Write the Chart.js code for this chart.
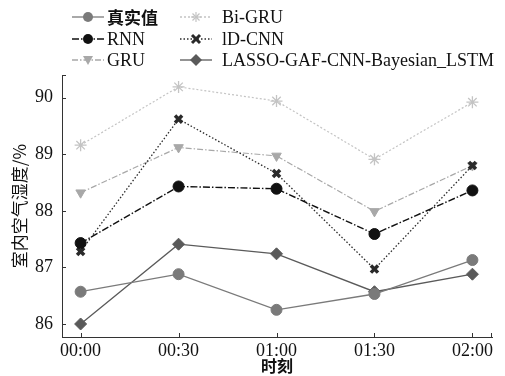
<!DOCTYPE html>
<html>
<head>
<meta charset="utf-8">
<script src="https://cdn.jsdelivr.net/npm/chart.js@4"></script>
<style>
  html, body { margin: 0; padding: 0; background: #fff; }
  #wrap { position: relative; width: 505px; height: 376px; }
  #legend { position: absolute; left: 0; top: 0; font-family: "Liberation Serif", "Noto Sans CJK SC", serif; font-size: 18px; color: #111; }
  .item { position: absolute; height: 20px; line-height: 20px; white-space: nowrap; }
  .item svg { position: absolute; top: 4px; }
  .item span { position: absolute; top: 0; }
  .zh { font-family: "Noto Sans CJK SC", sans-serif; font-size: 17px; font-weight: bold; }
</style>
</head>
<body>
<div id="wrap">
  <canvas id="chart" width="505" height="376"></canvas>
  <div id="legend"></div>
</div>
<script>
const timeLabels = ["00:00", "00:30", "01:00", "01:30", "02:00"];
const yTicks = [86, 87, 88, 89, 90];

const seriesNames = ["真实值", "Bi-GRU", "RNN", "lD-CNN", "GRU", "LASSO-GAF-CNN-Bayesian_LSTM"];
const actual = [86.57, 86.88, 86.25, 86.53, 87.13];
const biGru = [89.16, 90.19, 89.94, 88.91, 89.92];
const rnn = [87.43, 88.43, 88.39, 87.59, 88.36];
const cnn1d = [87.28, 89.62, 88.66, 86.97, 88.80];
const gru = [88.32, 89.12, 88.97, 87.99, 88.80];
const lassoLstm = [86.00, 87.41, 87.24, 86.57, 86.88];

const styles = [
  { color: "#7a7a7a", dash: [], point: "circle", rot: 0, r: 5.5, width: 1.3 },
  { color: "#c4c4c4", dash: [2, 2], point: "star", rot: 0, r: 6, width: 1.2 },
  { color: "#111111", dash: [7, 2, 1.5, 2], point: "circle", rot: 0, r: 5.5, width: 1.4 },
  { color: "#2a2a2a", dash: [1.5, 2], point: "crossRot", rot: 0, r: 5, width: 1.3 },
  { color: "#a8a8a8", dash: [6, 2, 1.5, 2], point: "triangle", rot: 180, r: 5.5, width: 1.2 },
  { color: "#5a5a5a", dash: [], point: "rectRot", rot: 0, r: 6, width: 1.3 }
];
const seriesData = [actual, biGru, rnn, cnn1d, gru, lassoLstm];

const datasets = seriesData.map((vals, i) => {
  const s = styles[i];
  return {
    label: seriesNames[i],
    data: vals.map((v, k) => ({ x: k, y: v })),
    borderColor: s.color,
    backgroundColor: s.color,
    borderWidth: s.width,
    borderDash: s.dash,
    pointStyle: s.point,
    pointRotation: s.rot,
    pointRadius: s.r,
    pointBorderWidth: s.point === "crossRot" ? 3.5 : (s.point === "star" ? 1.3 : 1),
    pointBorderColor: s.color,
    pointBackgroundColor: s.color,
    fill: false,
    tension: 0
  };
});

// inward tick marks drawn at the scales' own tick positions
const innerTicks = {
  id: "innerTicks",
  afterDraw(chart) {
    const ctx = chart.ctx;
    const xs = chart.scales.x, ys = chart.scales.y;
    const a = chart.chartArea;
    ctx.save();
    ctx.strokeStyle = "#333";
    ctx.lineWidth = 1;
    ys.ticks.forEach(t => {
      const y = Math.round(ys.getPixelForValue(t.value)) + 0.5;
      ctx.beginPath(); ctx.moveTo(a.left, y); ctx.lineTo(a.left + 4, y); ctx.stroke();
    });
    xs.ticks.forEach(t => {
      const x = Math.round(xs.getPixelForValue(t.value)) + 0.5;
      ctx.beginPath(); ctx.moveTo(x, a.bottom); ctx.lineTo(x, a.bottom - 4); ctx.stroke();
    });
    ctx.beginPath(); ctx.moveTo(a.right - 0.5, a.bottom); ctx.lineTo(a.right - 0.5, a.bottom - 4); ctx.stroke();
    ctx.beginPath(); ctx.moveTo(a.left, a.top + 0.5); ctx.lineTo(a.left + 4, a.top + 0.5); ctx.stroke();
    ctx.restore();
  }
};

new Chart(document.getElementById("chart").getContext("2d"), {
  type: "line",
  data: { datasets },
  plugins: [innerTicks],
  options: {
    responsive: false,
    animation: false,
    layout: { padding: { top: 75, right: 13, left: 9, bottom: 0 } },
    plugins: { legend: { display: false }, tooltip: { enabled: false } },
    scales: {
      x: {
        type: "linear",
        min: -0.19,
        max: 4.2,
        afterBuildTicks: s => { s.ticks = timeLabels.map((_, i) => ({ value: i })); },
        afterFit: s => { s.height = 39; },
        grid: { drawOnChartArea: false, drawTicks: false },
        border: { color: "#333", width: 1 },
        ticks: {
          padding: 3,
          color: "#111",
          maxRotation: 0,
          font: { family: "Liberation Serif", size: 18 },
          callback: v => timeLabels[v]
        },
        title: {
          display: true,
          text: "时刻",
          color: "#111",
          padding: { top: -4, bottom: 0 },
          font: { family: "Noto Sans CJK SC", size: 16, weight: "bold" }
        }
      },
      y: {
        min: 85.77,
        max: 90.4,
        afterBuildTicks: s => { s.ticks = yTicks.map(v => ({ value: v })); },
        afterFit: s => { s.width = 53; },
        grid: { drawOnChartArea: false, drawTicks: false },
        border: { color: "#333", width: 1 },
        ticks: {
          padding: 9,
          color: "#111",
          font: { family: "Liberation Serif", size: 18 }
        },
        title: {
          display: true,
          text: "室内空气湿度/%",
          color: "#111",
          padding: { top: 0, bottom: 0 },
          font: { family: "Noto Sans CJK SC", size: 17 }
        }
      }
    }
  }
});

// legend: two columns, three rows
function markerSvg(i) {
  const s = styles[i];
  const w = 34, cy = 6, cx = 17;
  let shape = "";
  if (s.point === "circle") shape = `<circle cx="${cx}" cy="${cy}" r="5" fill="${s.color}"/>`;
  else if (s.point === "star") shape = `<g stroke="${s.color}" stroke-width="1.2"><line x1="${cx-5}" y1="${cy}" x2="${cx+5}" y2="${cy}"/><line x1="${cx}" y1="${cy-5}" x2="${cx}" y2="${cy+5}"/><line x1="${cx-3.5}" y1="${cy-3.5}" x2="${cx+3.5}" y2="${cy+3.5}"/><line x1="${cx-3.5}" y1="${cy+3.5}" x2="${cx+3.5}" y2="${cy-3.5}"/></g>`;
  else if (s.point === "crossRot") shape = `<g stroke="${s.color}" stroke-width="3"><line x1="${cx-4}" y1="${cy-4}" x2="${cx+4}" y2="${cy+4}"/><line x1="${cx-4}" y1="${cy+4}" x2="${cx+4}" y2="${cy-4}"/></g>`;
  else if (s.point === "triangle") shape = `<polygon points="${cx-5},${cy-4} ${cx+5},${cy-4} ${cx},${cy+5}" fill="${s.color}"/>`;
  else shape = `<polygon points="${cx},${cy-6} ${cx+6},${cy} ${cx},${cy+6} ${cx-6},${cy}" fill="${s.color}"/>`;
  const dash = s.dash.length ? `stroke-dasharray="${s.dash.join(" ")}"` : "";
  return `<svg width="${w}" height="12"><line x1="1" y1="${cy}" x2="${w-1}" y2="${cy}" stroke="${s.color}" stroke-width="1.3" ${dash}/>${shape}</svg>`;
}
const legendPos = [
  { x: 71, y: 7 }, { x: 179, y: 7 },
  { x: 71, y: 29 }, { x: 179, y: 29 },
  { x: 71, y: 50 }, { x: 179, y: 50 }
];
const legend = document.getElementById("legend");
seriesNames.forEach((name, i) => {
  const p = legendPos[i];
  const d = document.createElement("div");
  d.className = "item";
  d.style.left = p.x + "px";
  d.style.top = p.y + "px";
  const zh = /[\u4e00-\u9fff]/.test(name);
  d.innerHTML = markerSvg(i) + `<span class="${zh ? "zh" : ""}" style="left:${i % 2 ? 43 : 36}px">${name}</span>`;
  legend.appendChild(d);
});
</script>
</body>
</html>
